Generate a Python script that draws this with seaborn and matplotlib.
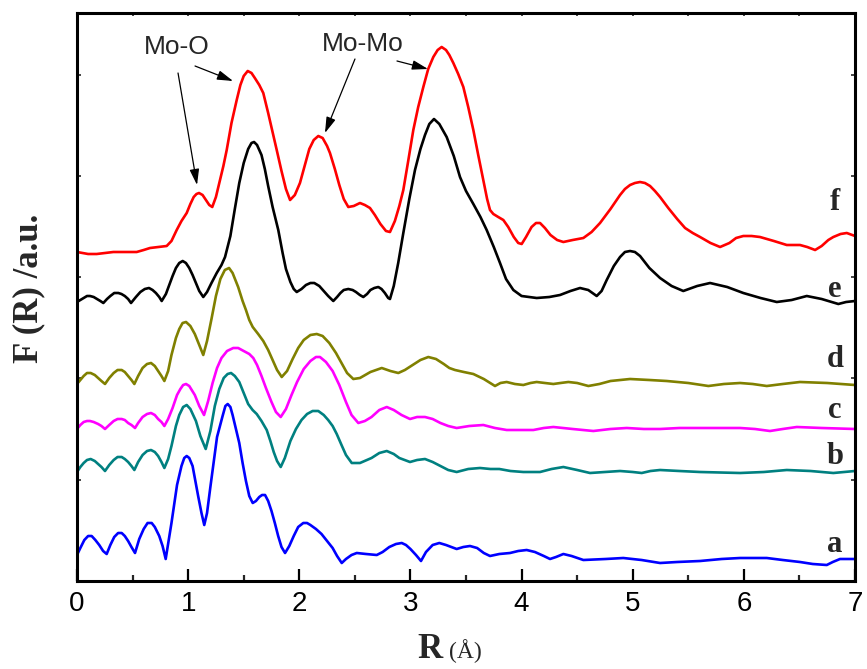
import matplotlib
matplotlib.use("Agg")
import matplotlib.pyplot as plt
from matplotlib.ticker import MultipleLocator
import pandas as pd
import seaborn as sns

# Fourier-transformed EXAFS magnitude |F(R)| of samples a-f, stacked with offsets.
# Each curve is a list of (R in Angstrom, F in a.u.) points.
curve_a = [(0.00, 26), (0.03, 33), (0.066, 41), (0.10, 45), (0.132, 45), (0.165, 41), (0.20, 36),
           (0.235, 30), (0.267, 27), (0.30, 36), (0.335, 44), (0.37, 48), (0.402, 48), (0.43, 45),
           (0.46, 40), (0.49, 34), (0.522, 28), (0.56, 42), (0.60, 52), (0.635, 58), (0.672, 58),
           (0.70, 54), (0.74, 45), (0.77, 35), (0.798, 22), (0.85, 58), (0.90, 96), (0.94, 115),
           (0.965, 123), (0.987, 125), (1.01, 123), (1.04, 115), (1.09, 85), (1.12, 68), (1.145, 56),
           (1.17, 68), (1.20, 94), (1.26, 144), (1.31, 165), (1.335, 175), (1.356, 177), (1.38, 174),
           (1.40, 166), (1.43, 152), (1.46, 138), (1.49, 118), (1.52, 100), (1.55, 85), (1.581, 78),
           (1.61, 80), (1.64, 84), (1.665, 86), (1.692, 86), (1.72, 80), (1.75, 70), (1.78, 58),
           (1.81, 45), (1.84, 34), (1.872, 28), (1.91, 35), (1.95, 45), (1.99, 54), (2.036, 58),
           (2.07, 58), (2.10, 56), (2.15, 52), (2.20, 47), (2.25, 40), (2.30, 33), (2.34, 25),
           (2.382, 18), (2.42, 22), (2.47, 26), (2.517, 28), (2.60, 27), (2.697, 26), (2.75, 29),
           (2.81, 34), (2.87, 37), (2.922, 38), (2.96, 36), (3.00, 32), (3.05, 26), (3.095, 20),
           (3.14, 29), (3.20, 36), (3.26, 38), (3.32, 36), (3.416, 32), (3.476, 34), (3.536, 35),
           (3.60, 33), (3.66, 28), (3.716, 25), (3.80, 27), (3.896, 28), (3.97, 30), (4.046, 31),
           (4.12, 29), (4.20, 25), (4.256, 22), (4.31, 24), (4.376, 27), (4.45, 25), (4.556, 21),
           (4.756, 22), (4.915, 23), (5.08, 21), (5.246, 18), (5.40, 19), (5.606, 20), (5.80, 22),
           (5.966, 23), (6.206, 23), (6.35, 21), (6.505, 19), (6.62, 17), (6.746, 16), (6.80, 19),
           (6.865, 22), (7.00, 22)]

curve_b = [(0.00, 109), (0.03, 114), (0.06, 118), (0.09, 121), (0.123, 122), (0.16, 120),
           (0.19, 117), (0.22, 114), (0.252, 110), (0.29, 116), (0.33, 121), (0.365, 124),
           (0.402, 124), (0.43, 122), (0.46, 119), (0.49, 115), (0.516, 111), (0.55, 119),
           (0.59, 126), (0.63, 130), (0.666, 131), (0.70, 129), (0.73, 125), (0.76, 119),
           (0.786, 113), (0.82, 122), (0.85, 135), (0.89, 155), (0.92, 166), (0.955, 174),
           (0.987, 176), (1.02, 172), (1.07, 160), (1.11, 145), (1.158, 132), (1.20, 150),
           (1.24, 175), (1.28, 192), (1.32, 203), (1.355, 207), (1.386, 208), (1.42, 205),
           (1.46, 199), (1.50, 188), (1.54, 177), (1.58, 171), (1.617, 167), (1.66, 160),
           (1.707, 151), (1.74, 140), (1.77, 129), (1.80, 120), (1.833, 114), (1.87, 123),
           (1.92, 140), (1.97, 152), (2.02, 161), (2.07, 167), (2.12, 170), (2.171, 170),
           (2.22, 166), (2.26, 161), (2.30, 155), (2.337, 147), (2.38, 136), (2.42, 126),
           (2.472, 118), (2.546, 118), (2.65, 123), (2.72, 128), (2.787, 130), (2.85, 127),
           (2.90, 123), (2.996, 119), (3.06, 121), (3.131, 122), (3.20, 119), (3.27, 115),
           (3.34, 111), (3.416, 109), (3.52, 112), (3.626, 113), (3.72, 112), (3.80, 112),
           (3.90, 110), (4.016, 109), (4.166, 109), (4.27, 112), (4.376, 114), (4.50, 111),
           (4.616, 108), (4.75, 109), (4.886, 110), (5.00, 109), (5.081, 108), (5.16, 110),
           (5.246, 111), (5.42, 110), (5.606, 109), (5.966, 108), (6.18, 109), (6.386, 111),
           (6.60, 110), (6.805, 108), (7.00, 110)]

curve_c = [(0.00, 152), (0.03, 156), (0.06, 159), (0.09, 160), (0.117, 160), (0.15, 159),
           (0.19, 157), (0.22, 155), (0.252, 152), (0.29, 156), (0.33, 160), (0.365, 162),
           (0.402, 162), (0.43, 161), (0.46, 158), (0.49, 156), (0.522, 153), (0.55, 158),
           (0.59, 164), (0.63, 167), (0.666, 168), (0.70, 166), (0.73, 162), (0.76, 159),
           (0.786, 155), (0.82, 162), (0.86, 173), (0.90, 186), (0.93, 192), (0.955, 196),
           (0.981, 197), (1.01, 195), (1.06, 186), (1.10, 175), (1.143, 166), (1.18, 180),
           (1.22, 198), (1.26, 213), (1.30, 223), (1.35, 230), (1.406, 233), (1.45, 233),
           (1.50, 230), (1.55, 227), (1.586, 223), (1.62, 216), (1.66, 205), (1.70, 193),
           (1.75, 179), (1.79, 169), (1.833, 164), (1.88, 172), (1.93, 186), (1.98, 199),
           (2.04, 212), (2.10, 220), (2.15, 224), (2.186, 224), (2.24, 219), (2.30, 210),
           (2.36, 196), (2.42, 179), (2.47, 166), (2.531, 158), (2.59, 160), (2.65, 164),
           (2.72, 171), (2.787, 174), (2.85, 171), (2.92, 166), (2.996, 162), (3.06, 164),
           (3.131, 164), (3.20, 162), (3.27, 158), (3.34, 155), (3.416, 153), (3.53, 155),
           (3.656, 156), (3.76, 153), (3.866, 151), (4.00, 151), (4.106, 151), (4.20, 153),
           (4.286, 154), (4.46, 152), (4.646, 150), (4.80, 152), (4.946, 153), (5.10, 152),
           (5.246, 152), (5.42, 153), (5.606, 153), (5.80, 153), (5.966, 153), (6.10, 152),
           (6.235, 150), (6.35, 152), (6.476, 154), (6.70, 153), (7.00, 152)]

curve_d = [(0.00, 197), (0.03, 201), (0.06, 205), (0.09, 208), (0.123, 208), (0.16, 206),
           (0.19, 203), (0.22, 200), (0.252, 197), (0.29, 203), (0.33, 208), (0.365, 211),
           (0.402, 211), (0.43, 209), (0.46, 205), (0.49, 201), (0.516, 197), (0.55, 205),
           (0.59, 213), (0.63, 217), (0.666, 218), (0.70, 215), (0.73, 210), (0.76, 205),
           (0.786, 200), (0.82, 210), (0.85, 226), (0.89, 243), (0.92, 252), (0.95, 258),
           (0.981, 259), (1.02, 255), (1.06, 247), (1.10, 236), (1.136, 226), (1.17, 240),
           (1.21, 262), (1.25, 285), (1.29, 302), (1.33, 311), (1.368, 313), (1.40, 308),
           (1.45, 294), (1.49, 280), (1.52, 271), (1.55, 261), (1.581, 254), (1.63, 247),
           (1.676, 240), (1.72, 231), (1.76, 221), (1.80, 211), (1.842, 204), (1.89, 210),
           (1.94, 222), (1.99, 233), (2.04, 241), (2.10, 246), (2.157, 247), (2.21, 245),
           (2.27, 238), (2.33, 228), (2.38, 218), (2.43, 208), (2.486, 202), (2.546, 203),
           (2.64, 209), (2.742, 213), (2.82, 210), (2.891, 208), (2.95, 211), (3.02, 216),
           (3.09, 221), (3.161, 224), (3.23, 222), (3.30, 217), (3.35, 213), (3.401, 211),
           (3.48, 209), (3.566, 207), (3.66, 202), (3.761, 195), (3.81, 198), (3.866, 199),
           (3.94, 197), (4.016, 196), (4.08, 198), (4.136, 199), (4.21, 198), (4.286, 197),
           (4.35, 198), (4.421, 199), (4.50, 198), (4.601, 195), (4.70, 197), (4.80, 200),
           (4.976, 202), (5.15, 201), (5.306, 200), (5.50, 198), (5.681, 195), (5.82, 197),
           (5.966, 198), (6.08, 197), (6.206, 195), (6.35, 197), (6.505, 199), (6.75, 198),
           (7.00, 196)]

curve_e = [(0.00, 279), (0.03, 281), (0.06, 283), (0.09, 285), (0.117, 285), (0.15, 284),
           (0.18, 282), (0.21, 280), (0.237, 278), (0.27, 282), (0.30, 285), (0.335, 288),
           (0.372, 288), (0.40, 287), (0.43, 285), (0.46, 282), (0.486, 278), (0.53, 284),
           (0.57, 289), (0.61, 292), (0.648, 293), (0.68, 291), (0.71, 288), (0.74, 284),
           (0.762, 280), (0.80, 287), (0.83, 296), (0.86, 305), (0.89, 313), (0.92, 318),
           (0.951, 320), (0.98, 318), (1.01, 313), (1.04, 306), (1.07, 298), (1.10, 290),
           (1.136, 284), (1.17, 289), (1.21, 298), (1.257, 308), (1.30, 316), (1.332, 324),
           (1.38, 345), (1.42, 372), (1.46, 398), (1.50, 418), (1.54, 432), (1.57, 438),
           (1.593, 439), (1.62, 436), (1.66, 426), (1.69, 412), (1.72, 395), (1.76, 374),
           (1.811, 351), (1.85, 328), (1.88, 312), (1.92, 299), (1.95, 292), (1.977, 289),
           (2.02, 292), (2.06, 296), (2.10, 298), (2.135, 298), (2.18, 295), (2.22, 290),
           (2.26, 285), (2.306, 280), (2.34, 284), (2.37, 288), (2.40, 291), (2.441, 292),
           (2.48, 291), (2.51, 289), (2.545, 286), (2.576, 284), (2.61, 287), (2.64, 291),
           (2.675, 293), (2.711, 294), (2.74, 292), (2.77, 288), (2.80, 283), (2.816, 282),
           (2.85, 295), (2.89, 318), (2.936, 348), (2.99, 382), (3.041, 411), (3.09, 432),
           (3.131, 446), (3.17, 457), (3.212, 462), (3.26, 457), (3.326, 444), (3.39, 425),
           (3.446, 404), (3.50, 390), (3.566, 377), (3.63, 364), (3.686, 351), (3.75, 334),
           (3.806, 318), (3.86, 302), (3.926, 291), (4.00, 285), (4.136, 283), (4.25, 284),
           (4.346, 286), (4.44, 290), (4.526, 293), (4.60, 291), (4.676, 285), (4.72, 290),
           (4.766, 301), (4.83, 315), (4.886, 324), (4.93, 329), (4.976, 330), (5.02, 329),
           (5.066, 325), (5.15, 313), (5.246, 303), (5.35, 295), (5.455, 290), (5.58, 295),
           (5.696, 298), (5.85, 294), (5.995, 288), (6.15, 283), (6.296, 279), (6.43, 281),
           (6.566, 285), (6.70, 282), (6.850, 277), (6.92, 279), (7.00, 280)]

curve_f = [(0.00, 329), (0.10, 327), (0.177, 327), (0.25, 328), (0.327, 329), (0.43, 329),
           (0.537, 329), (0.60, 331), (0.657, 333), (0.73, 334), (0.807, 335), (0.85, 340),
           (0.897, 351), (0.94, 360), (0.987, 368), (1.02, 377), (1.05, 384), (1.075, 387),
           (1.098, 388), (1.13, 386), (1.16, 381), (1.19, 376), (1.217, 374), (1.25, 384),
           (1.287, 401), (1.317, 415), (1.347, 431), (1.39, 458), (1.437, 481), (1.47, 496),
           (1.50, 505), (1.536, 510), (1.57, 508), (1.60, 503), (1.64, 496), (1.676, 488),
           (1.72, 468), (1.76, 449), (1.797, 431), (1.84, 410), (1.88, 392), (1.917, 381),
           (1.96, 386), (2.006, 398), (2.05, 416), (2.09, 432), (2.13, 441), (2.171, 445),
           (2.21, 443), (2.25, 435), (2.276, 428), (2.32, 412), (2.36, 396), (2.40, 382),
           (2.441, 374), (2.49, 375), (2.546, 378), (2.59, 376), (2.636, 373), (2.68, 366),
           (2.73, 357), (2.78, 350), (2.816, 349), (2.86, 360), (2.90, 375), (2.936, 391),
           (2.98, 420), (3.026, 451), (3.07, 474), (3.116, 494), (3.16, 512), (3.206, 524),
           (3.245, 531), (3.281, 534), (3.32, 531), (3.35, 526), (3.386, 518), (3.43, 507),
           (3.476, 494), (3.52, 474), (3.566, 451), (3.61, 426), (3.656, 401), (3.69, 382),
           (3.716, 371), (3.746, 367), (3.79, 364), (3.836, 361), (3.88, 354), (3.93, 344),
           (3.97, 338), (4.001, 337), (4.04, 344), (4.09, 354), (4.13, 358), (4.166, 358),
           (4.21, 353), (4.26, 346), (4.32, 341), (4.376, 339), (4.46, 341), (4.556, 343),
           (4.63, 349), (4.706, 358), (4.80, 372), (4.886, 386), (4.93, 392), (4.976, 396),
           (5.02, 398), (5.066, 399), (5.11, 398), (5.156, 395), (5.20, 390), (5.246, 384),
           (5.32, 373), (5.40, 362), (5.471, 353), (5.54, 348), (5.606, 344), (5.70, 338),
           (5.786, 334), (5.87, 338), (5.93, 343), (5.995, 345), (6.07, 345), (6.145, 344),
           (6.27, 340), (6.386, 336), (6.45, 336), (6.505, 336), (6.57, 334), (6.641, 331),
           (6.70, 335), (6.76, 341), (6.805, 344), (6.87, 347), (6.926, 348), (7.00, 345)]

samples = ["a", "b", "c", "d", "e", "f"]
colors = ["#0000FF", "#008080", "#FF00FF", "#808000", "#000000", "#FF0000"]
label_base = [29, 117, 163, 214, 284, 371]   # baseline heights of the sample letters

frames = []
for name, pts in zip(samples, [curve_a, curve_b, curve_c, curve_d, curve_e, curve_f]):
    frame = pd.DataFrame(pts, columns=["R", "F"])
    frame["sample"] = name
    frames.append(frame)
df = pd.concat(frames, ignore_index=True)

sns.set_theme(style="ticks")
plt.rcParams["font.family"] = ["Liberation Sans", "DejaVu Sans"]
plt.rcParams["axes.linewidth"] = 2.2

fig = plt.figure(figsize=(8.67, 6.69), dpi=100)
ax = fig.add_axes([77 / 867, 1 - 581 / 669, (855 - 77) / 867, (581 - 12.5) / 669])

sns.lineplot(data=df, x="R", y="F", hue="sample", hue_order=samples,
             palette=dict(zip(samples, colors)), sort=False, estimator=None,
             legend=False, linewidth=1.9, ax=ax)
for line in ax.get_lines():
    line.set_solid_joinstyle("round")

ax.set_xlim(0, 7)
ax.set_ylim(0, 568.5)
ax.set_xlabel("")
ax.set_ylabel("")
for s in ax.spines.values():
    s.set_linewidth(2.2)
    s.set_color("black")

ax.xaxis.set_major_locator(MultipleLocator(1))
ax.xaxis.set_minor_locator(MultipleLocator(0.5))
ax.tick_params(axis="x", which="major", direction="in", length=9, width=1.6,
               labelsize=20, pad=7, top=False, colors="black")
ax.tick_params(axis="x", which="minor", direction="in", length=4.5, width=1.6, top=False)
ax.yaxis.set_major_locator(MultipleLocator(101.3))
ax.tick_params(axis="y", which="major", direction="in", length=3, width=1.2,
               left=True, right=True, labelleft=False)

# small inward ticks along the top frame
top = ax.secondary_xaxis("top")
top.xaxis.set_major_locator(MultipleLocator(0.5))
top.tick_params(direction="in", length=3, width=1.2, labeltop=False)
top.spines["top"].set_visible(False)

# sample letters
for name, yb in zip(samples, label_base):
    ax.text(6.82, yb, name, ha="center", va="baseline", fontsize=22, fontweight="bold",
            family="Liberation Serif")

# peak assignments
arrow = dict(arrowstyle="-|>,head_length=0.6,head_width=0.18", color="black", lw=0.9,
             shrinkA=0, shrinkB=0, mutation_scale=16)
ax.text(0.90, 534, "Mo-O", ha="center", va="center", fontsize=19)
ax.annotate("", xy=(1.08, 396), xytext=(0.909, 508), arrowprops=arrow)
ax.annotate("", xy=(1.404, 500), xytext=(1.062, 515), arrowprops=arrow)
ax.text(2.573, 537, "Mo-Mo", ha="center", va="center", fontsize=19)
ax.annotate("", xy=(2.231, 448), xytext=(2.501, 522), arrowprops=arrow)
ax.annotate("", xy=(3.158, 512), xytext=(2.879, 520), arrowprops=arrow)

# axis titles
fig.text(29 / 867, 1 - 288 / 669, "F (R) /a.u.", rotation=90, ha="center", va="center",
         fontsize=25, fontweight="bold", family="Liberation Serif")
fig.text(430 / 867, 1 - 658 / 669, "R", ha="center", va="baseline", fontsize=25,
         fontweight="bold", family="Liberation Serif")
fig.text(465 / 867, 1 - 658 / 669, "(Å)", ha="center", va="baseline", fontsize=17,
         family="Liberation Serif")

fig.savefig("out.png", dpi=100)
